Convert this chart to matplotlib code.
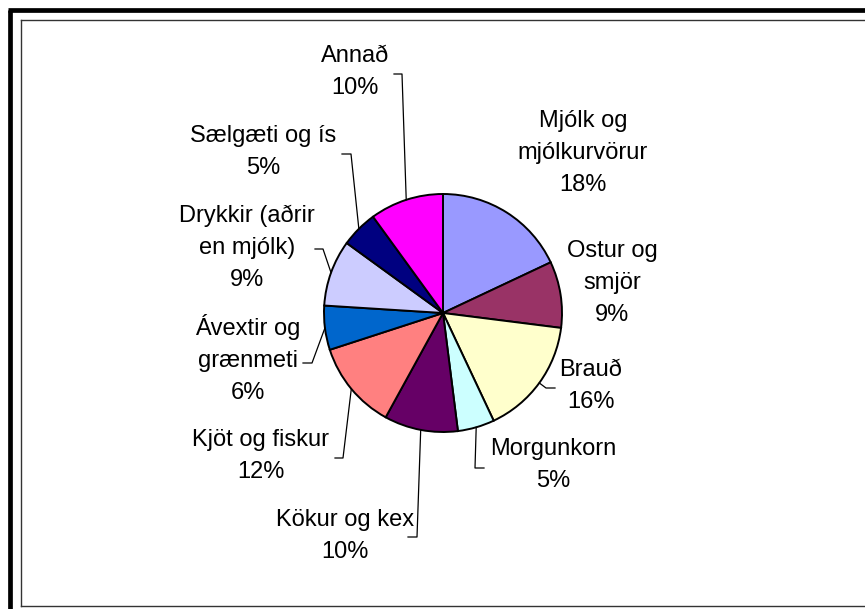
import numpy as np
import matplotlib
matplotlib.use("Agg")
import matplotlib.pyplot as plt

categories = ["Mjólk og\nmjólkurvörur", "Ostur og\nsmjör", "Brauð", "Morgunkorn",
              "Kökur og kex", "Kjöt og fiskur", "Ávextir og\ngrænmeti",
              "Drykkir (aðrir\nen mjólk)", "Sælgæti og ís", "Annað"]
values = [18, 9, 16, 5, 10, 12, 6, 9, 5, 10]
colors = ["#9999FF", "#993366", "#FFFFCC", "#CCFFFF", "#660066",
          "#FF8080", "#0066CC", "#CCCCFF", "#000080", "#FF00FF"]

W, H = 865, 609
fig = plt.figure(figsize=(W / 100, H / 100), dpi=100)
ax = fig.add_axes([0, 0, 1, 1])
ax.set_xlim(0, W)
ax.set_ylim(0, H)
ax.axis("off")

def Y(yp):
    return H - yp

cx, cy, R = 443, Y(313), 119
wedges, _ = ax.pie(values, colors=colors, startangle=90, counterclock=False,
                   center=(cx, cy), radius=R,
                   wedgeprops=dict(edgecolor="black", linewidth=1.4))
ax.set_xlim(0, W)
ax.set_ylim(0, H)
ax.set_aspect("equal")

# frames
ax.plot([10, 10], [Y(10), -5], color="black", lw=3.4, solid_capstyle="butt")
ax.plot([8.3, W + 5], [Y(10), Y(10)], color="black", lw=3.4, solid_capstyle="butt")
ax.plot([21, 21], [Y(20), Y(605.5)], color="#333333", lw=1.0)
ax.plot([21, W + 5], [Y(20), Y(20)], color="#333333", lw=1.0)
ax.plot([21, W + 5], [Y(605.5), Y(605.5)], color="#333333", lw=1.0)

# label layout (pixel coords: text center, leader elbow start/end)
label_pos = [(583, 153), (612, 283), (591, 386), (553, 465), (345, 536),
             (261, 456), (248, 359), (247, 248), (263, 152), (355, 72)]
leaders = [None, None, ((555, 388), (546, 388)), ((484, 468), (475, 468)),
           ((408, 537), (417, 537)), ((335, 458), (343, 458)),
           ((303, 363), (312, 363)), ((315, 249), (323, 249)),
           ((342, 154), (351, 154)), ((394, 74), (402, 74))]

total = sum(values)
cum = np.cumsum([0] + values)
for i, (cat, v) in enumerate(zip(categories, values)):
    x, y = label_pos[i]
    pct = f"{round(100 * v / total)}%"
    ax.text(x, Y(y), f"{cat}\n{pct}", ha="center", va="center",
            fontsize=17, family="Liberation Sans", linespacing=1.58,
            color="black")
    if leaders[i] is not None:
        (x0, y0), (x1, y1) = leaders[i]
        mid = (cum[i] + cum[i + 1]) / 2 / total
        ang = np.deg2rad(90 - 360 * mid)
        px, py = cx + R * np.cos(ang), cy + R * np.sin(ang)
        ax.plot([x0, x1, px], [Y(y0), Y(y1), py], color="black", lw=0.9)

fig.savefig("out.png", dpi=100)
